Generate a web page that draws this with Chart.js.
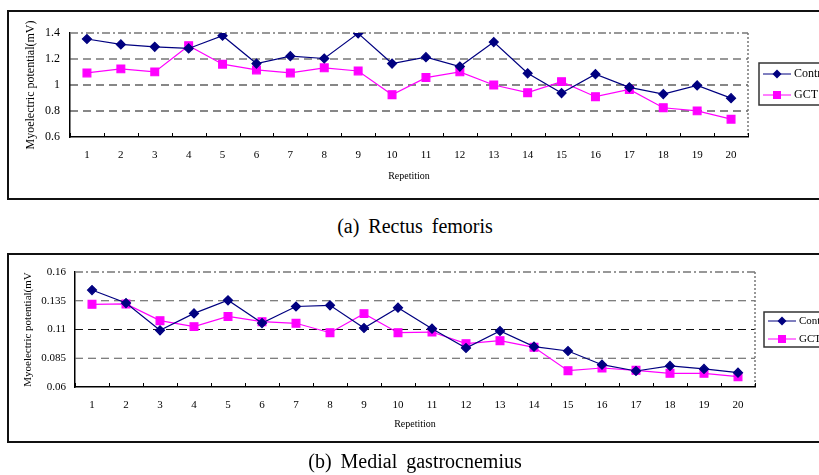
<!DOCTYPE html>
<html>
<head>
<meta charset="utf-8">
<script src="https://cdn.jsdelivr.net/npm/chart.js@4.4.0/dist/chart.umd.min.js"></script>
<style>
  body { margin: 0; background: #fff; width: 819px; height: 475px; overflow: hidden; position: relative; font-family: "Liberation Serif", serif; }
  .frame { position: absolute; left: 7px; width: 900px; height: 186px; border: 2px solid #111; border-right: none; }
  canvas { position: absolute; left: 0; }
  .cap { position: absolute; left: 0; width: 830px; text-align: center; font-size: 20px; word-spacing: 4px; color: #000; line-height: 22px; }
</style>
</head>
<body>
<div class="frame" style="top:10px"></div>
<div class="frame" style="top:253px"></div>
<canvas id="rfChart" width="830" height="205" style="top:0"></canvas>
<canvas id="mgChart" width="830" height="205" style="top:250px"></canvas>
<div class="cap" style="top:215px">(a) Rectus femoris</div>
<div class="cap" style="top:450px">(b) Medial gastrocnemius</div>
<script>
const repetitions = ['1','2','3','4','5','6','7','8','9','10','11','12','13','14','15','16','17','18','19','20'];
const seriesNames = ['Control', 'GCT'];

// (a) Rectus femoris
const rfControl = [1.354, 1.312, 1.294, 1.281, 1.379, 1.165, 1.222, 1.204, 1.397, 1.165, 1.214, 1.142, 1.330, 1.090, 0.938, 1.083, 0.982, 0.930, 0.997, 0.899];
const rfGCT = [1.093, 1.124, 1.101, 1.302, 1.160, 1.116, 1.093, 1.132, 1.108, 0.925, 1.057, 1.101, 1.000, 0.941, 1.026, 0.910, 0.966, 0.825, 0.801, 0.737];
const rfTicks = [0.6, 0.8, 1, 1.2, 1.4];

// (b) Medial gastrocnemius
const mgControl = [0.1443, 0.1330, 0.1093, 0.1240, 0.1354, 0.1156, 0.1300, 0.1310, 0.1113, 0.1290, 0.1107, 0.0939, 0.1087, 0.0951, 0.0913, 0.0794, 0.0739, 0.0783, 0.0757, 0.0725];
const mgGCT = [0.1319, 0.1322, 0.1177, 0.1125, 0.1214, 0.1168, 0.1154, 0.1072, 0.1238, 0.1072, 0.1078, 0.0977, 0.1003, 0.0945, 0.0742, 0.0765, 0.0745, 0.0719, 0.0719, 0.0690];
const mgTicks = [0.06, 0.085, 0.11, 0.135, 0.16];

const navy = '#000080';
const magenta = '#ff00ff';

// grid lines, dotted right border, inward tick marks, boxed legend
const frameLines = {
  id: 'frameLines',
  beforeDatasetsDraw(chart, args, opts) {
    const { ctx, chartArea: a, scales: { x, y } } = chart;
    ctx.save();
    y.ticks.forEach((t, i) => {
      if (i === 0) return;
      const py = y.getPixelForValue(t.value);
      ctx.beginPath();
      if (i === y.ticks.length - 1) {
        ctx.setLineDash([8, 3, 2, 3]);
        ctx.strokeStyle = '#777';
        ctx.lineWidth = 1.5;
      } else {
        ctx.setLineDash([8, 5]);
        ctx.strokeStyle = opts.gridColors[i];
        ctx.lineWidth = 1.2;
      }
      ctx.moveTo(a.left, py);
      ctx.lineTo(a.right, py);
      ctx.stroke();
    });
    ctx.setLineDash([2, 2]);
    ctx.strokeStyle = '#777';
    ctx.lineWidth = 1.5;
    ctx.beginPath();
    ctx.moveTo(a.right, a.top);
    ctx.lineTo(a.right, a.bottom);
    ctx.stroke();

    ctx.setLineDash([]);
    ctx.strokeStyle = '#000';
    ctx.lineWidth = 1;
    const half = (x.getPixelForValue(1) - x.getPixelForValue(0)) / 2;
    for (let i = 0; i <= x.ticks.length; i++) {
      const px = Math.round(x.getPixelForValue(i) - half) + 0.5;
      ctx.beginPath();
      ctx.moveTo(px, a.bottom);
      ctx.lineTo(px, a.bottom - 4);
      ctx.stroke();
    }
    ctx.restore();
  },
  afterDraw(chart, args, opts) {
    const { ctx, chartArea: a } = chart;
    const lg = opts.legend;
    const left = a.right + lg.dx;
    ctx.save();
    ctx.strokeStyle = '#333';
    ctx.lineWidth = 1.5;
    ctx.strokeRect(left, lg.top, 120, lg.height);
    ctx.font = lg.fontSize + 'px "Liberation Serif", serif';
    ctx.textBaseline = 'middle';
    chart.data.datasets.forEach((ds, i) => {
      const ry = lg.rows[i];
      ctx.strokeStyle = ds.borderColor;
      ctx.lineWidth = 1;
      ctx.beginPath();
      ctx.moveTo(left + 4, ry);
      ctx.lineTo(left + 32, ry);
      ctx.stroke();
      ctx.fillStyle = ds.backgroundColor;
      ctx.beginPath();
      if (ds.pointStyle === 'rectRot') {
        const r = 4.5;
        ctx.moveTo(left + 18, ry - r);
        ctx.lineTo(left + 18 + r, ry);
        ctx.lineTo(left + 18, ry + r);
        ctx.lineTo(left + 18 - r, ry);
        ctx.closePath();
      } else {
        ctx.rect(left + 14, ry - 4, 8, 8);
      }
      ctx.fill();
      ctx.fillStyle = '#000';
      ctx.fillText(ds.label, left + 35, ry);
    });
    ctx.restore();
  }
};

function makeChart(id, control, gct, ticks, cfg) {
  return new Chart(document.getElementById(id), {
    type: 'line',
    data: {
      labels: repetitions,
      datasets: [
        { label: seriesNames[0], data: control, borderColor: navy, backgroundColor: navy, borderWidth: 1.2,
          pointStyle: 'rectRot', pointRadius: 4.5, pointHoverRadius: 4.5, tension: 0 },
        { label: seriesNames[1], data: gct, borderColor: magenta, backgroundColor: magenta, borderWidth: 1.2,
          pointStyle: 'rect', pointRadius: 5.5, pointHoverRadius: 5.5, tension: 0 }
      ]
    },
    options: {
      responsive: false,
      animation: false,
      devicePixelRatio: 1,
      layout: { padding: cfg.padding },
      plugins: {
        legend: { display: false },
        tooltip: { enabled: false },
        frameLines: { gridColors: cfg.gridColors, legend: cfg.legend }
      },
      scales: {
        x: {
          offset: true,
          grid: { display: false, drawTicks: false },
          border: { display: true, color: '#000', width: 1.5 },
          ticks: { color: '#000', padding: 12, font: { family: 'Liberation Serif', size: 11 }, maxRotation: 0, autoSkip: false },
          title: { display: true, text: 'Repetition', color: '#000', font: { family: 'Liberation Serif', size: 10 }, padding: { top: 0, bottom: cfg.xTitlePad } },
          afterFit(scale) { scale.height = cfg.xHeight; }
        },
        y: {
          min: ticks[0],
          max: ticks[ticks.length - 1],
          grid: { display: false, drawTicks: false },
          border: { display: true, color: '#000', width: 1.5 },
          afterBuildTicks(scale) { scale.ticks = ticks.map(v => ({ value: v })); },
          ticks: { color: '#000', padding: cfg.yTickPad, font: { family: 'Liberation Serif', size: cfg.yTickSize }, callback: v => String(v) },
          title: { display: true, text: cfg.yTitle, color: '#000', font: { family: 'Liberation Serif', size: cfg.yTitleSize }, padding: { top: cfg.yTitlePad, bottom: 0 } },
          afterFit(scale) { scale.width = cfg.yWidth; }
        }
      }
    },
    plugins: [frameLines]
  });
}

makeChart('rfChart', rfControl, rfGCT, rfTicks, {
  padding: { left: 0, top: 33, right: 82, bottom: 18 },
  xHeight: 50, xTitlePad: 5, yWidth: 70, yTickPad: 10, yTickSize: 12, yTitlePad: 24, yTitleSize: 12,
  yTitle: 'Myoelectric potential(mV)',
  gridColors: ['#000', '#111', '#111', '#333'],
  legend: { dx: 11, top: 63, height: 42, rows: [74, 95], fontSize: 12 }
});

makeChart('mgChart', mgControl, mgGCT, mgTicks, {
  padding: { left: 0, top: 22, right: 75, bottom: 20 },
  xHeight: 48, xTitlePad: 5, yWidth: 75, yTickPad: 9, yTickSize: 11, yTitlePad: 22, yTitleSize: 11,
  yTitle: 'Myoelectric potential(mV',
  gridColors: ['#000', '#555', '#111', '#555'],
  legend: { dx: 9, top: 62, height: 35, rows: [71, 89], fontSize: 11 }
});
</script>
</body>
</html>
